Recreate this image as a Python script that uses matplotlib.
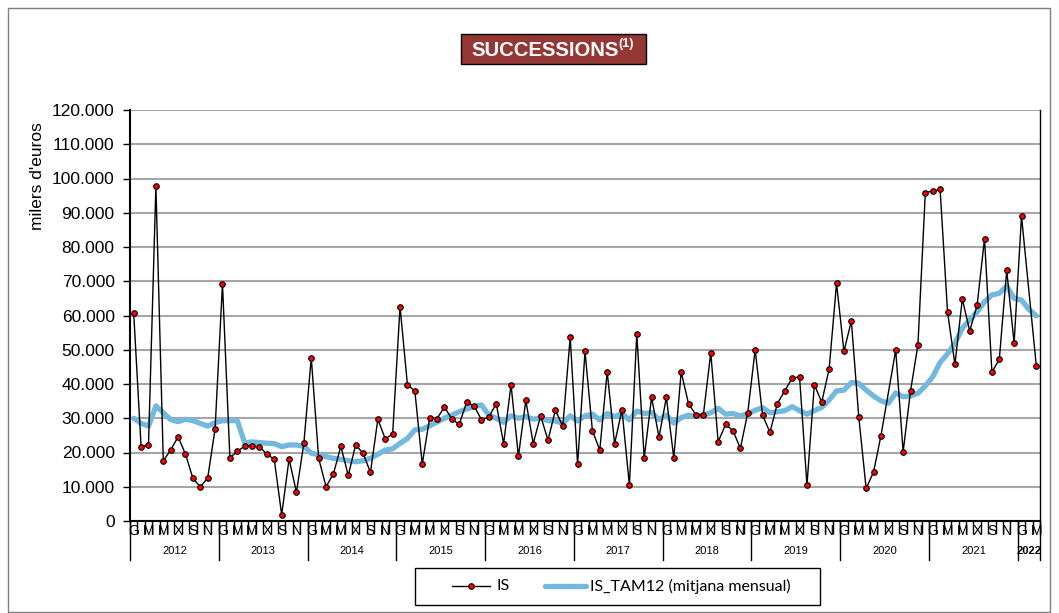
import numpy as np
import matplotlib
matplotlib.use('Agg')
import matplotlib.pyplot as plt
from matplotlib.patches import Rectangle
from matplotlib.lines import Line2D
from matplotlib.ticker import FuncFormatter, MultipleLocator, FixedLocator
from matplotlib.transforms import blended_transform_factory

# ---------------- data ----------------
years = [2012, 2013, 2014, 2015, 2016, 2017, 2018, 2019, 2020, 2021, 2022]
months_per_year = [12, 12, 12, 12, 12, 12, 12, 12, 12, 12, 3]
month_tick_labels = ['G', 'M', 'M', 'X', 'S', 'N']   # every second month

is_values = [
    60700, 21700, 22200, 97800, 17600, 20700, 24600, 19500, 12500, 10000, 12500, 26900,   # 2012
    69200, 18500, 20300, 21900, 21900, 21700, 19500, 18000, 1800, 18100, 8400, 22700,     # 2013
    47700, 18300, 10000, 13800, 21800, 13300, 22200, 19800, 14200, 29700, 24000, 25400,   # 2014
    62600, 39800, 38000, 16600, 30100, 29900, 33300, 29800, 28200, 34700, 33600, 29600,   # 2015
    30300, 34300, 22600, 39800, 18900, 35200, 22600, 30700, 23600, 32400, 27600, 53700,   # 2016
    16500, 49500, 26400, 20700, 43600, 22600, 32400, 10500, 54600, 18400, 36100, 24500,   # 2017
    36100, 18400, 43500, 34200, 31000, 31000, 49100, 23100, 28200, 26400, 21200, 31600,   # 2018
    50000, 30900, 25900, 34300, 38000, 41700, 42100, 10500, 39800, 34700, 44400, 69400,   # 2019
    49500, 58400, 30500, 9500, 14300, 24900, np.nan, 49900, 20200, 38000, 51400, 95900,   # 2020
    96300, 96800, 61100, 45700, 64800, 55500, 63000, 82400, 43500, 47200, 73200, 51900,   # 2021
    89000, np.nan, 45300,                                                                 # 2022
]

tam12_values = [
    30000, 28500, 27700, 33600, 31600, 29600, 29000, 29700, 29300, 28500, 27700, 28700,   # 2012
    29300, 29300, 29300, 22800, 23100, 22900, 22700, 22600, 21700, 22200, 22200, 21800,   # 2013
    19800, 19300, 18800, 18300, 18000, 17600, 17300, 17600, 18300, 19500, 20700, 21100,   # 2014
    22700, 24100, 26600, 26800, 27800, 28900, 30000, 30900, 31900, 32700, 33400, 33900,   # 2015
    30900, 30000, 28800, 30700, 30000, 30500, 29700, 30100, 29300, 29200, 28500, 30700,   # 2016
    29200, 30700, 31200, 29500, 31400, 30500, 31400, 29500, 32100, 31400, 31600, 29600,   # 2017
    30900, 28600, 30200, 30900, 30500, 30900, 31600, 32900, 31200, 31400, 30700, 31300,   # 2018
    32300, 33100, 31600, 31900, 32200, 33400, 32200, 31200, 32200, 33200, 35300, 38000,   # 2019
    38200, 40400, 40200, 38200, 36500, 35100, 34400, 37400, 36300, 36500, 37300, 39400,   # 2020
    42100, 46300, 48800, 51900, 56300, 58700, 61100, 64000, 66000, 66500, 68600, 65000,   # 2021
    64500, 61800, 59900,                                                                  # 2022
]

series_labels = ['IS', 'IS_TAM12 (mitjana mensual)']
title_text = 'SUCCESSIONS'
title_sup = '(1)'
y_label = "milers d'euros"

# ---------------- figure ----------------
W, H = 1059, 613
fig = plt.figure(figsize=(W / 100, H / 100), dpi=100)
fig.patch.set_facecolor('white')


def fx(px):
    return px / W


def fy(py):
    return 1 - py / H


# outer chart border
fig.patches.append(Rectangle((fx(8), fy(612)), fx(1050) - fx(8), fy(8) - fy(612),
                             transform=fig.transFigure, fill=False, edgecolor='#7f7f7f', lw=1.0))

ax = fig.add_axes([fx(130), fy(521), fx(1040) - fx(130), fy(110) - fy(521)])

is_arr = np.array(is_values, dtype=float)
tam_arr = np.array(tam12_values, dtype=float)
n = len(is_arr)
x = np.arange(n)

TAM_COLOR = '#72B8DF'
ax.plot(x, tam_arr, color=TAM_COLOR, lw=3.8, solid_capstyle='round', solid_joinstyle='round', zorder=3)
mask = ~np.isnan(is_arr)
ax.plot(x[mask], is_arr[mask], color='black', lw=1.0, marker='o', ms=4.0,
        mfc='#ff0000', mec='black', mew=0.8, zorder=4)

ax.set_xlim(-0.5, n - 0.5)
ax.set_ylim(0, 120000)
ax.yaxis.set_major_locator(MultipleLocator(10000))
ax.yaxis.set_major_formatter(FuncFormatter(lambda v, p: f"{int(round(v)):,}".replace(',', '.')))
ax.grid(axis='y', color='#a6a6a6', lw=1.5, zorder=0)
ax.set_axisbelow(True)

ax.spines['top'].set_visible(False)
ax.spines['left'].set_color('black')
ax.spines['left'].set_linewidth(1.5)
ax.spines['bottom'].set_color('black')
ax.spines['bottom'].set_linewidth(1.5)
ax.spines['right'].set_color('black')
ax.spines['right'].set_linewidth(1.0)

ax.tick_params(axis='y', length=5, width=1, labelsize=12.5, pad=6, colors='black')
for lab in ax.get_yticklabels():
    lab.set_fontfamily('Liberation Sans')

# x ticks: marks at every month boundary, letters every second month
ax.xaxis.set_major_locator(FixedLocator(np.arange(n + 1) - 0.5))
ax.xaxis.set_major_formatter(FuncFormatter(lambda v, p: ''))
ax.tick_params(axis='x', which='major', length=9, width=1, direction='out', colors='black')

lab_pos = []
lab_txt = []
idx = 0
for yr, m in zip(years, months_per_year):
    for k in range(0, m, 2):
        lab_pos.append(idx + k)
        lab_txt.append(month_tick_labels[k // 2])
    idx += m
ax.xaxis.set_minor_locator(FixedLocator(lab_pos))
ax.set_xticklabels(lab_txt, minor=True)
ax.tick_params(axis='x', which='minor', length=0, labelsize=10, pad=2)
for lab in ax.get_xticklabels(minor=True):
    lab.set_fontfamily('Liberation Sans')

# year labels and separators
trans = blended_transform_factory(ax.transData, ax.transAxes)
sep_bottom = -(560 - 521) / 411
idx = 0
bounds = [-0.5]
for yr, m in zip(years, months_per_year):
    center = idx + (m - 1) / 2
    ax.text(center, -(551 - 521) / 411, str(yr), transform=trans, ha='center', va='center',
            fontsize=8, family='Liberation Sans', fontweight='bold' if yr == 2022 else 'normal')
    idx += m
    bounds.append(idx - 0.5)
for b in bounds:
    ax.add_line(Line2D([b, b], [0, sep_bottom], transform=trans, color='black', lw=1.0, clip_on=False))

fig.text(fx(37), fy(176), y_label, rotation=90, ha='center', va='center', fontsize=12.5,
         family='Liberation Sans')

# title box
fig.patches.append(Rectangle((fx(461), fy(64)), fx(646) - fx(461), fy(34) - fy(64),
                             transform=fig.transFigure, facecolor='#953735', edgecolor='black', lw=1.0))
fig.text(fx(471), fy(50), title_text, ha='left', va='center', color='white', fontsize=14.6,
         fontweight='bold', family='Liberation Sans')
fig.text(fx(618), fy(44), title_sup, ha='left', va='center', color='white', fontsize=9,
         fontweight='bold', family='Liberation Sans')

# legend (manual)
fig.patches.append(Rectangle((fx(415), fy(605)), fx(820) - fx(415), fy(568) - fy(605),
                             transform=fig.transFigure, fill=False, edgecolor='black', lw=1.0))
ly = fy(586)
fig.lines.append(Line2D([fx(452), fx(490)], [ly, ly], transform=fig.transFigure, color='black', lw=1.0))
fig.lines.append(Line2D([fx(471)], [ly], transform=fig.transFigure, color='black', marker='o', ms=4.0,
                        mfc='#ff0000', mec='black', mew=0.8, lw=0))
fig.text(fx(496), ly, series_labels[0], ha='left', va='center', fontsize=11.5, family='Lato')
fig.lines.append(Line2D([fx(545), fx(586)], [ly, ly], transform=fig.transFigure, color=TAM_COLOR, lw=3.8,
                        solid_capstyle='round'))
fig.text(fx(590), ly, series_labels[1], ha='left', va='center', fontsize=11.5, family='Lato')

fig.savefig('out.png', dpi=100, facecolor='white')
